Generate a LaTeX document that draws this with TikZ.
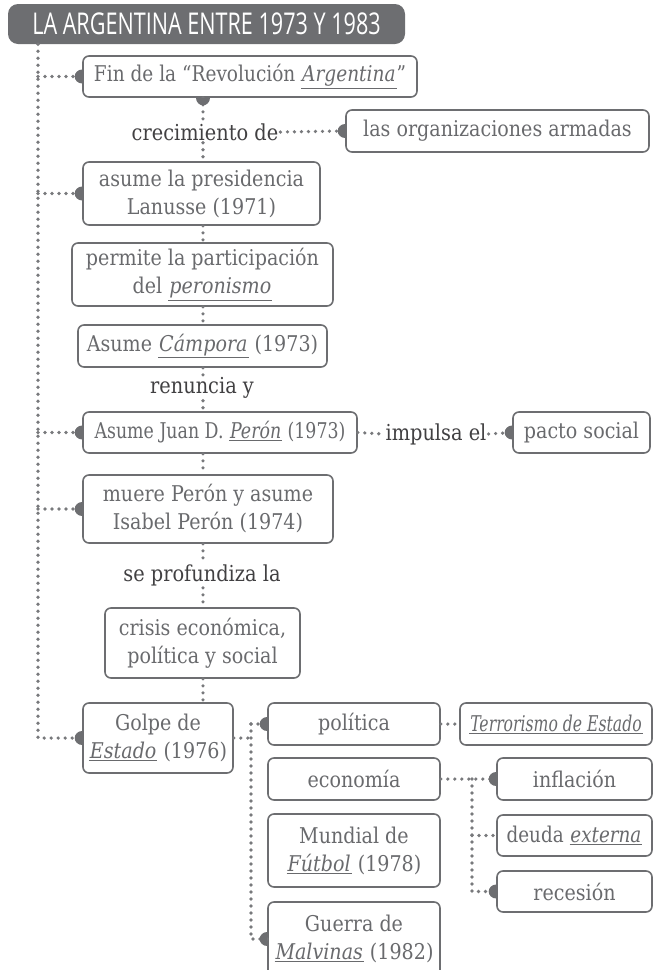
\documentclass[tikz,border=0pt]{standalone}
\usepackage{fontspec}
\setmainfont{DejaVu Serif}[FakeStretch=0.88]
\newfontfamily\fuentetitulo{Open Sans}[FakeStretch=0.72]
\usepackage{tikz}
\usetikzlibrary{calc}

\definecolor{grislinea}{RGB}{109,110,113}
\definecolor{gristexto}{RGB}{105,106,109}
\definecolor{grisetiqueta}{RGB}{65,64,66}
\definecolor{grispunto}{RGB}{120,121,124}

\newcommand{\enf}[1]{\underline{\kern1pt\textit{#1}\kern1pt}}

\tikzset{
  caja/.style={draw=grislinea, line width=1.6pt, rounded corners=6pt, fill=white, text=gristexto,
    align=center, inner sep=0pt, font=\fontsize{21.7}{28}\selectfont},
  etiqueta/.style={fill=white, text=grisetiqueta, inner sep=2pt, font=\fontsize{22}{28}\selectfont},
  puntos/.style={grispunto, line width=3.6pt, line cap=round, dash pattern=on 0pt off 7pt},
  lengueta/.pic={\fill[grislinea] (0,-7) arc[start angle=270, end angle=90, x radius=7.5, y radius=7] -- cycle;}
}

\begin{document}
\begin{tikzpicture}[x=1pt,y=-1pt]
\useasboundingbox (0,0) rectangle (653,970);
\coordinate (eje1) at (38,0);
\coordinate (eje2) at (203,0);
\coordinate (eje3) at (251,0);
\coordinate (eje4) at (472,0);

\node[fill=grislinea, rounded corners=10pt, minimum width=397, minimum height=40, text=white,
  font=\fuentetitulo\fontsize{30}{30}\selectfont] (titulo) at (206.5,24) {LA ARGENTINA ENTRE 1973 Y 1983};

\node[caja, minimum width=334, minimum height=41] (fin) at (250,76.5) {\scalebox{0.97}[1]{Fin de la “Revolución \enf{Argentina}”}};
\node[etiqueta] (crecimiento) at (205,132) {crecimiento de};
\node[caja, minimum width=303, minimum height=42] (organizaciones) at (497.5,131) {las organizaciones armadas};
\node[caja, minimum width=237, minimum height=63] (lanusse) at (201.5,193.5) {asume la presidencia\\Lanusse (1971)};
\node[caja, minimum width=261, minimum height=63] (permite) at (202.5,274.5) {permite la participación\\del \enf{peronismo}};
\node[caja, minimum width=249, minimum height=42] (campora) at (202.5,346) {Asume \enf{Cámpora} (1973)};
\node[etiqueta] (renuncia) at (202,388) {renuncia y};
\node[caja, minimum width=274, minimum height=41] (peron) at (220,432.5) {\scalebox{0.91}[1]{Asume Juan D. \enf{Perón} (1973)}};
\node[etiqueta] (impulsa) at (436,434) {impulsa el};
\node[caja, minimum width=137, minimum height=41] (pacto) at (581.5,432.5) {pacto social};
\node[caja, minimum width=250, minimum height=68] (muere) at (208,509) {muere Perón y asume\\Isabel Perón (1974)};
\node[etiqueta] (profundiza) at (202,575) {se profundiza la};
\node[caja, minimum width=195, minimum height=70] (crisis) at (202.5,643) {crisis económica,\\política y social};
\node[caja, minimum width=150, minimum height=70] (golpe) at (158,738) {Golpe de\\\enf{Estado} (1976)};

\node[caja, minimum width=172, minimum height=42] (politica) at (354,724) {política};
\node[caja, minimum width=192, minimum height=42] (terrorismo) at (556,724) {\scalebox{0.82}[1]{\enf{Terrorismo de Estado}}};
\node[caja, minimum width=172, minimum height=42] (economia) at (354,779) {economía};
\node[caja, minimum width=172, minimum height=73] (mundial) at (354,850.5) {Mundial de\\\enf{Fútbol} (1978)};
\node[caja, minimum width=172, minimum height=74] (guerra) at (354,939) {Guerra de\\\enf{Malvinas} (1982)};
\node[caja, minimum width=155, minimum height=42] (inflacion) at (574.5,779) {inflación};
\node[caja, minimum width=155, minimum height=41] (deuda) at (574.5,835.5) {\scalebox{0.96}[1]{deuda \enf{externa}}};
\node[caja, minimum width=155, minimum height=41] (recesion) at (574.5,891.5) {recesión};

% eje principal
\draw[puntos] (titulo.south -| eje1) |- (golpe.west);
\foreach \n in {fin,lanusse,peron,muere}
  \draw[puntos] (\n.west -| eje1) -- (\n.west);

% columna central
\draw[puntos] (fin.south -| eje2) -- (crecimiento.north -| eje2) (crecimiento.south -| eje2) -- (lanusse.north -| eje2);
\draw[puntos] (lanusse.south -| eje2) -- (permite.north -| eje2);
\draw[puntos] (permite.south -| eje2) -- (campora.north -| eje2);
\draw[puntos] (campora.south -| eje2) -- (renuncia.north -| eje2) (renuncia.south -| eje2) -- (peron.north -| eje2);
\draw[puntos] (peron.south -| eje2) -- (muere.north -| eje2);
\draw[puntos] (muere.south -| eje2) -- (profundiza.north -| eje2) (profundiza.south -| eje2) -- (crisis.north -| eje2);
\draw[puntos] (crisis.south -| eje2) -- (golpe.north -| eje2);

\draw[puntos] (crecimiento.east) -- (organizaciones.west);
\draw[puntos] (peron.east) -- (impulsa.west) (impulsa.east) -- (pacto.west);

% golpe
\draw[puntos] (golpe.east) -- (golpe.east -| eje3);
\draw[puntos] (politica.west -| eje3) |- (guerra.west);
\draw[puntos] (politica.west -| eje3) -- (politica.west);
\draw[puntos] (politica.east) -- (terrorismo.west);
\draw[puntos] (economia.east) -- (inflacion.west);
\draw[puntos] (inflacion.west -| eje4) |- (recesion.west);
\draw[puntos] (deuda.west -| eje4) -- (deuda.west);

\foreach \n in {fin,organizaciones,lanusse,peron,pacto,muere,golpe,politica,guerra,inflacion,recesion}
  \pic at (\n.west) {lengueta};
\pic[rotate=90] at (fin.south -| eje2) {lengueta};
\end{tikzpicture}
\end{document}
